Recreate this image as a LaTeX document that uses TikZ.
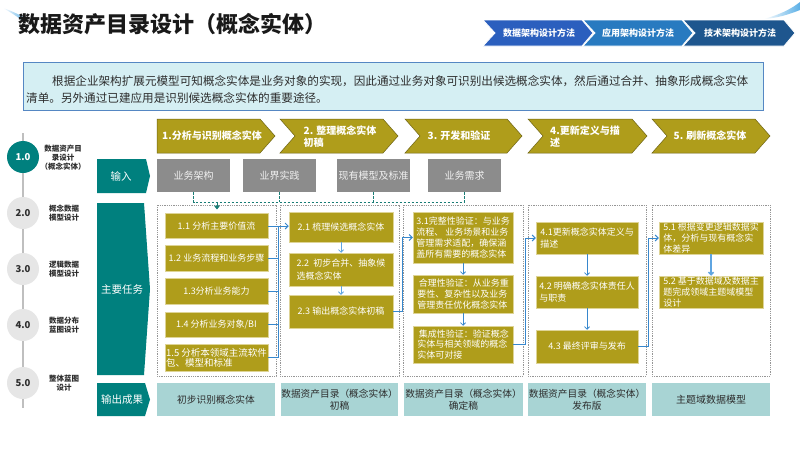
\documentclass[tikz,border=0pt]{standalone}
\usepackage{fontspec}
\setmainfont{Noto Sans CJK SC}
\usetikzlibrary{arrows.meta}
\definecolor{gold}{RGB}{175,157,27}
\definecolor{goldedge}{RGB}{222,212,150}
\definecolor{goldline}{RGB}{110,100,20}
\definecolor{teal1}{RGB}{0,128,126}
\definecolor{ingray}{RGB}{140,140,140}
\definecolor{outteal}{RGB}{168,212,212}
\definecolor{conblue}{RGB}{55,135,205}
\definecolor{lightblue}{RGB}{95,165,225}
\definecolor{dteal}{RGB}{25,125,118}
\definecolor{circgray}{RGB}{230,230,230}
\definecolor{descfill}{RGB}{213,239,243}
\definecolor{descline}{RGB}{85,135,195}
\definecolor{tabA}{RGB}{43,95,190}
\definecolor{tabB}{RGB}{40,122,192}
\definecolor{tabC}{RGB}{30,86,142}
\definecolor{txtdark}{RGB}{45,45,45}
\definecolor{contgray}{RGB}{150,150,150}
\definecolor{streak}{RGB}{90,175,230}
\newcommand\mychev[7]{\path[#1] (#2,#4) -- ({#3-#6},#4) -- (#3,{(#4+#5)/2}) -- ({#3-#6},#5) -- (#2,#5) -- ({#2+#7},{(#4+#5)/2}) -- cycle;}
\begin{document}
\begin{tikzpicture}[x=1pt,y=-1pt,
  gbox/.style={fill=gold, draw=goldedge, line width=0.5pt, text=white, font=\fontsize{9}{10.8}\selectfont, inner sep=1pt, align=center},
  gleft/.style={gbox, align=left},
  inbox/.style={fill=ingray, text=white!94!black, font=\fontsize{10}{12}\selectfont, inner sep=0pt, minimum width=73pt, minimum height=33pt},
  outbox/.style={fill=outteal, text=txtdark, font=\fontsize{9.7}{12}\selectfont, inner sep=0pt, minimum height=33pt, align=center},
  cont/.style={draw=contgray, line width=0.6pt, dash pattern=on 1pt off 0.8pt},
  bcon/.style={draw=conblue, line width=0.9pt},
  barrow/.style={bcon, -{Straight Barb[length=3pt,width=6pt]}},
  varrow/.style={draw=lightblue, line width=0.8pt, -{Straight Barb[length=2.5pt,width=5pt]}},
  dcon/.style={draw=dteal, line width=0.9pt, dash pattern=on 2.5pt off 1.5pt},
  htext/.style={text=white, font=\bfseries\fontsize{10}{12}\selectfont, align=left, inner sep=0pt},
  tabtext/.style={text=white, font=\bfseries\fontsize{9}{10}\selectfont, inner sep=0pt},
  rowtext/.style={text=white, font=\fontsize{10.5}{12}\selectfont, inner sep=0pt},
  circ/.style={circle, minimum size=32pt, inner sep=0pt, font=\bfseries\fontsize{9.5}{10}\selectfont},
  slabel/.style={font=\bfseries\fontsize{7.5}{9}\selectfont, text=txtdark, align=center, inner sep=0pt}]
\useasboundingbox (0,0) rectangle (800,450);
\fill[white] (0,0) rectangle (800,450);

% decorative streaks
\shade[left color=white, right color=streak] (3,8) .. controls (12,11) and (20,15) .. (27,19) -- (24,22) .. controls (18,17) and (10,12) .. (3,8) -- cycle;
\shade[left color=white, right color=streak] (764,19) .. controls (778,15) and (790,10) .. (800,2) -- (800,10) .. controls (790,14) and (778,18) .. (764,19) -- cycle;

% title
\node[anchor=west, inner sep=0pt, font=\bfseries\fontsize{22}{24}\selectfont, text=black!90] (title) at (18,24) {数据资产目录设计（概念实体）};

% tabs
\mychev{fill=tabA, draw=white, line width=0.8pt}{483}{593}{20}{46}{11}{12}
\mychev{fill=tabB, draw=white, line width=0.8pt}{583}{693}{20}{46}{11}{12}
\mychev{fill=tabC, draw=white, line width=0.8pt}{683}{795}{20}{46}{11}{12}
\node[tabtext] (tab1) at (539,33) {数据架构设计方法};
\node[tabtext] (tab2) at (638,33) {应用架构设计方法};
\node[tabtext] (tab3) at (740,33) {技术架构设计方法};

% description
\draw[fill=descfill, draw=descline, line width=0.8pt] (23,62) rectangle (763,110);
\node[anchor=west, inner sep=0pt, font=\fontsize{11.6}{14}\selectfont, text=txtdark] (d1) at (52,81) {根据企业架构扩展元模型可知概念实体是业务对象的实现，因此通过业务对象可识别出候选概念实体，然后通过合并、抽象形成概念实体};
\node[anchor=west, inner sep=0pt, font=\fontsize{11.6}{14}\selectfont, text=txtdark] (d2) at (26,98) {清单。另外通过已建应用是识别候选概念实体的重要途径。};

% sidebar
\draw[line width=1.5pt, draw=black!25] (23,133) -- (23,408);
\node[circ, fill=teal1, text=white] (s1) at (23,157) {1.0};
\node[circ, fill=circgray, text=txtdark] (s2) at (23,213) {2.0};
\node[circ, fill=circgray, text=txtdark] (s3) at (23,269) {3.0};
\node[circ, fill=circgray, text=txtdark] (s4) at (23,325) {4.0};
\node[circ, fill=circgray, text=txtdark] (s5) at (23,383) {5.0};
\node[slabel] (l1) at (63,158) {数据资产目\\录设计\\（概念实体）};
\node[slabel] (l2) at (64,213.5) {概念数据\\模型设计};
\node[slabel] (l3) at (64,269.5) {逻辑数据\\模型设计};
\node[slabel] (l4) at (64,325.5) {数据分布\\蓝图设计};
\node[slabel] (l5) at (64,383.5) {整体蓝图\\设计};

% row labels
\mychev{fill=teal1}{97}{150}{159}{193}{4}{0}
\mychev{fill=teal1}{97}{150}{203}{375}{6}{0}
\mychev{fill=teal1}{97}{150}{383}{416}{5}{0}
\node[rowtext] (rin) at (121,176) {输入};
\node[rowtext] (rtask) at (122,289) {主要任务};
\node[rowtext] (rout) at (122,399.5) {输出成果};

% header chevrons
\mychev{fill=gold, draw=goldline, line width=0.5pt}{157}{275}{119}{153}{15}{0}
\mychev{fill=gold, draw=goldline, line width=0.5pt}{280}{398}{119}{153}{15}{15}
\mychev{fill=gold, draw=goldline, line width=0.5pt}{405}{522}{119}{153}{15}{15}
\mychev{fill=gold, draw=goldline, line width=0.5pt}{528}{647}{119}{153}{15}{15}
\mychev{fill=gold, draw=goldline, line width=0.5pt}{652}{770}{119}{153}{15}{15}
\node[htext] (h1) at (212,136) {1.分析与识别概念实体};
\node[htext] (h2) at (340,137) {2. 整理概念实体\\初稿};
\node[htext] (h3) at (459,136) {3. 开发和验证};
\node[htext] (h4) at (585,137) {4.更新定义与描\\述};
\node[htext] (h5) at (710,136) {5. 刷新概念实体};

% inputs
\node[inbox] (in1) at (193.5,175.5) {业务架构};
\node[inbox] (in2) at (279.5,175.5) {业界实践};
\node[inbox] (in3) at (373.5,175.5) {现有模型及标准};
\node[inbox] (in4) at (464.5,175.5) {业务需求};

% containers
\draw[cont] (157,205) rectangle (276,376);
\draw[cont] (280,205) rectangle (399,376);
\draw[cont] (403,205) rectangle (523,376);
\draw[cont] (528,205) rectangle (646,376);
\draw[cont] (652,205) rectangle (770,376);

% column 1
\node[gbox, minimum width=103pt, minimum height=25pt] (b11) at (216.5,226) {1.1 分析主要价值流};
\node[gbox, minimum width=103pt, minimum height=26pt] (b12) at (216.5,258) {1.2 业务流程和业务步骤};
\node[gbox, minimum width=103pt, minimum height=26pt] (b13) at (216.5,291) {1.3分析业务能力};
\node[gbox, minimum width=103pt, minimum height=25pt] (b14) at (216.5,324.5) {1.4 分析业务对象/BI};
\node[gleft, minimum width=103pt, minimum height=27pt, inner sep=0pt, font=\fontsize{9.5}{10}\selectfont] (b15) at (216.5,357.5) {1.5 分析本领域主流软件\\包、模型和标准};

% column 2
\node[gbox, minimum width=104pt, minimum height=30pt] (b21) at (341,227) {2.1 梳理候选概念实体};
\node[gleft, minimum width=104pt, minimum height=33pt, font=\fontsize{9}{13}\selectfont] (b22) at (341,269.5) {2.2 \ 初步合并、抽象候\\选概念实体};
\node[gbox, minimum width=104pt, minimum height=33pt] (b23) at (341,311.5) {2.3 输出概念实体初稿};

% column 3
\node[gleft, minimum width=100pt, minimum height=51pt] (b31) at (463,237.5) {3.1完整性验证：与业务\\流程、 业务场景和业务\\管理需求适配，确保涵\\盖所有需要的概念实体};
\node[gleft, minimum width=100pt, minimum height=38pt] (b32) at (463,294) {\,合理性验证：从业务重\\要性、复杂性以及业务\\管理责任优化概念实体};
\node[gleft, minimum width=100pt, minimum height=37pt] (b33) at (463,344.5) {\,集成性验证：验证概念\\实体与相关领域的概念\\实体可对接};

% column 4
\node[gleft, minimum width=102pt, minimum height=32pt, font=\fontsize{9}{12.5}\selectfont] (b41) at (587,238) {4.1更新概念实体定义与\\描述};
\node[gleft, minimum width=102pt, minimum height=32pt, font=\fontsize{9}{12.5}\selectfont] (b42) at (587,292) {4.2 明确概念实体责任人\\与职责};
\node[gbox, minimum width=102pt, minimum height=33pt] (b43) at (587,346.5) {4.3 最终评审与发布};

% column 5
\node[gleft, minimum width=104pt, minimum height=32pt, inner sep=0pt] (b51) at (711,238) {5.1 根据变更逻辑数据实\\体，分析与现有概念实\\体差异};
\node[gleft, minimum width=104pt, minimum height=32pt, inner sep=0pt] (b52) at (711,292) {5.2 基于数据域及数据主\\题完成领域主题域模型\\设计};

% outputs
\node[outbox, minimum width=118pt] (o1) at (216,399.5) {初步识别概念实体};
\node[outbox, minimum width=117pt] (o2) at (339.5,399.5) {数据资产目录（概念实体）\\初稿};
\node[outbox, minimum width=119pt] (o3) at (463.5,399.5) {数据资产目录（概念实体）\\确定稿};
\node[outbox, minimum width=118pt] (o4) at (587,399.5) {数据资产目录（概念实体）\\发布版};
\node[outbox, minimum width=118pt, font=\fontsize{10}{12}\selectfont] (o5) at (711,399.5) {主题域数据模型};

% dashed input connector
\coordinate (dj) at (217,202);
\coordinate (djt) at (217,209.5);
\draw[dcon] (in1.south) |- (in4.south |- dj) -- (in4.south);
\draw[dcon] (in2.south) -- (in2.south |- dj);
\draw[dcon] (in3.south) -- (in3.south |- dj);
\draw[draw=dteal, line width=1pt, -{Triangle[length=4pt,width=6pt]}] (dj) -- (djt);

% blue connectors
\coordinate (bx1) at (278,0);
\coordinate (bx2) at (402,0);
\coordinate (bx3) at (525,0);
\coordinate (bx4) at (648,0);
\draw[barrow] (b11.east) -- (b11.east -| b21.west);
\draw[bcon] (b12.east) -- (b12.east -| bx1);
\draw[bcon] (b13.east) -- (b13.east -| bx1);
\draw[bcon] (b14.east) -- (b14.east -| bx1);
\draw[bcon] (b15.east) -| (b11.east -| bx1);
\draw[barrow] (b23.east) -| (bx2 |- b31.west) -- (b31.west);
\draw[barrow] (b33.east) -| (bx3 |- b41.west) -- (b41.west);
\draw[barrow] (b43.east) -| (bx4 |- b51.west) -- (b51.west);

% vertical arrows
\draw[varrow] (b21) -- (b22);
\draw[varrow] (b22) -- (b23);
\draw[varrow, draw=conblue] (b31) -- (b32);
\draw[varrow, draw=conblue] (b32) -- (b33);
\draw[varrow, draw=conblue] (b41) -- (b42);
\draw[varrow, draw=conblue] (b42) -- (b43);
\draw[varrow, line width=1.5pt] (b51) -- (b52);
\end{tikzpicture}
\end{document}
